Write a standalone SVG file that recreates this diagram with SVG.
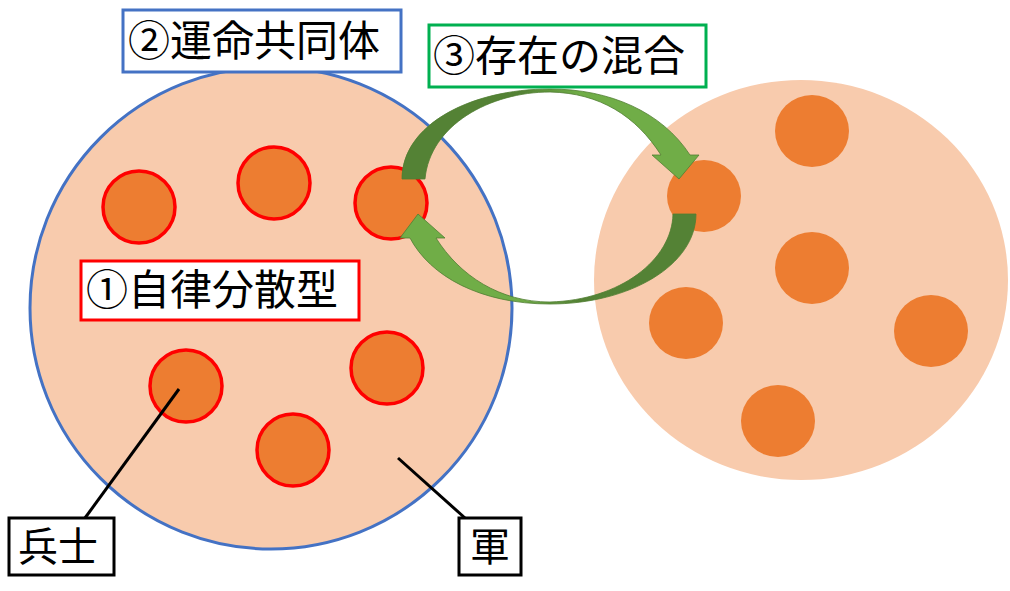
<svg xmlns="http://www.w3.org/2000/svg" width="1010" height="591" viewBox="0 0 1010 591">
<style>
.s{fill:#ED7D31;stroke:#FF0000;stroke-width:3.5}
.d{fill:#ED7D31}
.box{fill:#fff;stroke-width:3}
.t{font-family:"Noto Sans CJK JP","Noto Sans",sans-serif;font-size:42px;fill:#000}
.ln{stroke:#000;stroke-width:3}
</style>
<defs>
<linearGradient id="g1" x1="0" x2="1" y1="0" y2="0"><stop offset="0.4" stop-color="#548235"/><stop offset="0.6" stop-color="#70AD47"/></linearGradient>
<linearGradient id="g2" x1="1" x2="0" y1="0" y2="0"><stop offset="0.4" stop-color="#548235"/><stop offset="0.6" stop-color="#70AD47"/></linearGradient>
</defs>
<g id="army1"><circle cx="271" cy="308" r="241" fill="#F8CBAD" stroke="#4472C4" stroke-width="3"/></g>
<g id="army2"><ellipse cx="801" cy="280" rx="207" ry="200" fill="#F8CBAD"/></g>
<g id="soldiers1">
<circle class="s" cx="139" cy="207" r="36"/><circle class="s" cx="274" cy="183" r="36"/><circle class="s" cx="391" cy="203" r="36"/>
<circle class="s" cx="186" cy="386" r="36"/><circle class="s" cx="387" cy="368" r="36"/><circle class="s" cx="293" cy="450" r="36"/>
</g>
<g id="soldiers2">
<ellipse class="d" cx="812" cy="131" rx="37" ry="36"/><ellipse class="d" cx="704" cy="196" rx="37" ry="36"/><ellipse class="d" cx="812" cy="268" rx="37" ry="36"/>
<ellipse class="d" cx="686" cy="323" rx="37" ry="36"/><ellipse class="d" cx="931" cy="331" rx="37" ry="36"/><ellipse class="d" cx="778" cy="421" rx="37" ry="36"/>
</g>
<g id="connectors">
<path d="M402,179 C402,125 470,89 550,89 C610,89 662,112 690,155 L699,155 L679,179 L652,155 L661,155 C636,116 600,93 550,92 C490,92 430,125 425,179 Z" fill="url(#g1)" stroke="#507e32" stroke-width="0.8"/>
<path d="M696,214 C696,265 630,304 550,304 C480,304 430,276 410,238 L400,238 L418,214 L445,238 L436,238 C460,276 500,302 550,302 C620,300 672,260 673,214 Z" fill="url(#g2)" stroke="#507e32" stroke-width="0.8"/>
<line class="ln" x1="179" y1="389" x2="85" y2="518"/>
<line class="ln" x1="398" y1="458" x2="465" y2="518"/>
</g>
<g id="label2"><rect class="box" x="123" y="10" width="278" height="62" stroke="#4472C4"/><text class="t" x="128" y="56">②運命共同体</text></g>
<g id="label3"><rect class="box" x="429" y="25" width="277" height="62" stroke="#00B050"/><text class="t" x="433" y="71">③存在の混合</text></g>
<g id="label1"><rect class="box" x="81" y="261" width="278" height="59" stroke="#FF0000"/><text class="t" x="86" y="305">①自律分散型</text></g>
<g id="soldier"><rect class="box" x="9" y="518" width="105" height="57" stroke="#000"/><text class="t" x="18" y="561" style="font-size:40px">兵士</text></g>
<g id="army"><rect class="box" x="459" y="518" width="62" height="57" stroke="#000"/><text class="t" x="470" y="561" style="font-size:40px">軍</text></g>
</svg>
